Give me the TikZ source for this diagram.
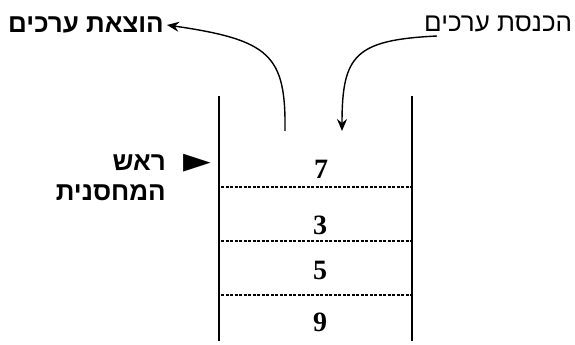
\documentclass[tikz,border=0pt]{standalone}
\usepackage{fontspec}
\setmainfont{Liberation Serif}
\newfontfamily\hebfont[Script=Hebrew]{Liberation Sans}
\newfontfamily\symfont{DejaVu Sans}
\newfontfamily\numfont{Liberation Serif Bold}
\TeXXeTstate=1
\usetikzlibrary{arrows.meta}
\begin{document}
\begin{tikzpicture}[x=1pt,y=-1pt,
  heb/.style={font=\hebfont\fontsize{26}{30}\selectfont, inner sep=0pt},
  hebb/.style={font=\hebfont\bfseries\fontsize{26}{30}\selectfont, inner sep=0pt},
  num/.style={font=\numfont\fontsize{28}{30}\selectfont, inner sep=0pt},
  wall/.style={line width=2.6pt},
  sep/.style={line width=1.1pt, dash pattern=on 3pt off 1.5pt},
  curvearrow/.style={line width=1.4pt, -{Stealth[length=12pt,width=10pt,inset=4pt]}}]
\useasboundingbox (0,0) rectangle (575,345);
% walls
\coordinate (lt) at (219,96);
\coordinate (lb) at (219,341);
\coordinate (rt) at (412,96);
\coordinate (rb) at (412,341);
\draw[wall] (lt) -- (lb);
\draw[wall] (rt) -- (rb);
% separators
\coordinate (s1l) at (221,187); \coordinate (s1r) at (411,187);
\coordinate (s2l) at (221,241); \coordinate (s2r) at (411,241);
\coordinate (s3l) at (221,295); \coordinate (s3r) at (411,295);
\draw[sep] (s1l) -- (s1r);
\draw[sep] (s2l) -- (s2r);
\draw[sep] (s3l) -- (s3r);
% values
\node[num] (v7) at (321,169) {7};
\node[num] (v3) at (320,225) {3};
\node[num] (v5) at (320,270) {5};
\node[num] (v9) at (320,322) {9};
% labels
\node[hebb, anchor=east] (out) at (164,25) {\beginR הוצאת ערכים\endR};
\node[heb, anchor=west] (ins) at (424,24) {\beginR הכנסת ערכים\endR};
\node[hebb, anchor=east] (top1) at (166,163) {\beginR ראש\endR};
\node[hebb, anchor=east] (top2) at (166,193) {\beginR המחסנית\endR};
\node[font=\symfont\fontsize{36}{38}\selectfont, inner sep=0pt] (tri) at (197,163) {►};
% arrows
\coordinate (insStart) at (437,36);
\coordinate (insEnd) at (342,131);
\coordinate (outStart) at (285,131);
\draw[curvearrow] (insStart) .. controls (355,40) and (342,55) .. (insEnd);
\draw[curvearrow] (outStart) .. controls (286,55) and (270,40) .. ([xshift=3pt]out.east);
\end{tikzpicture}
\end{document}
